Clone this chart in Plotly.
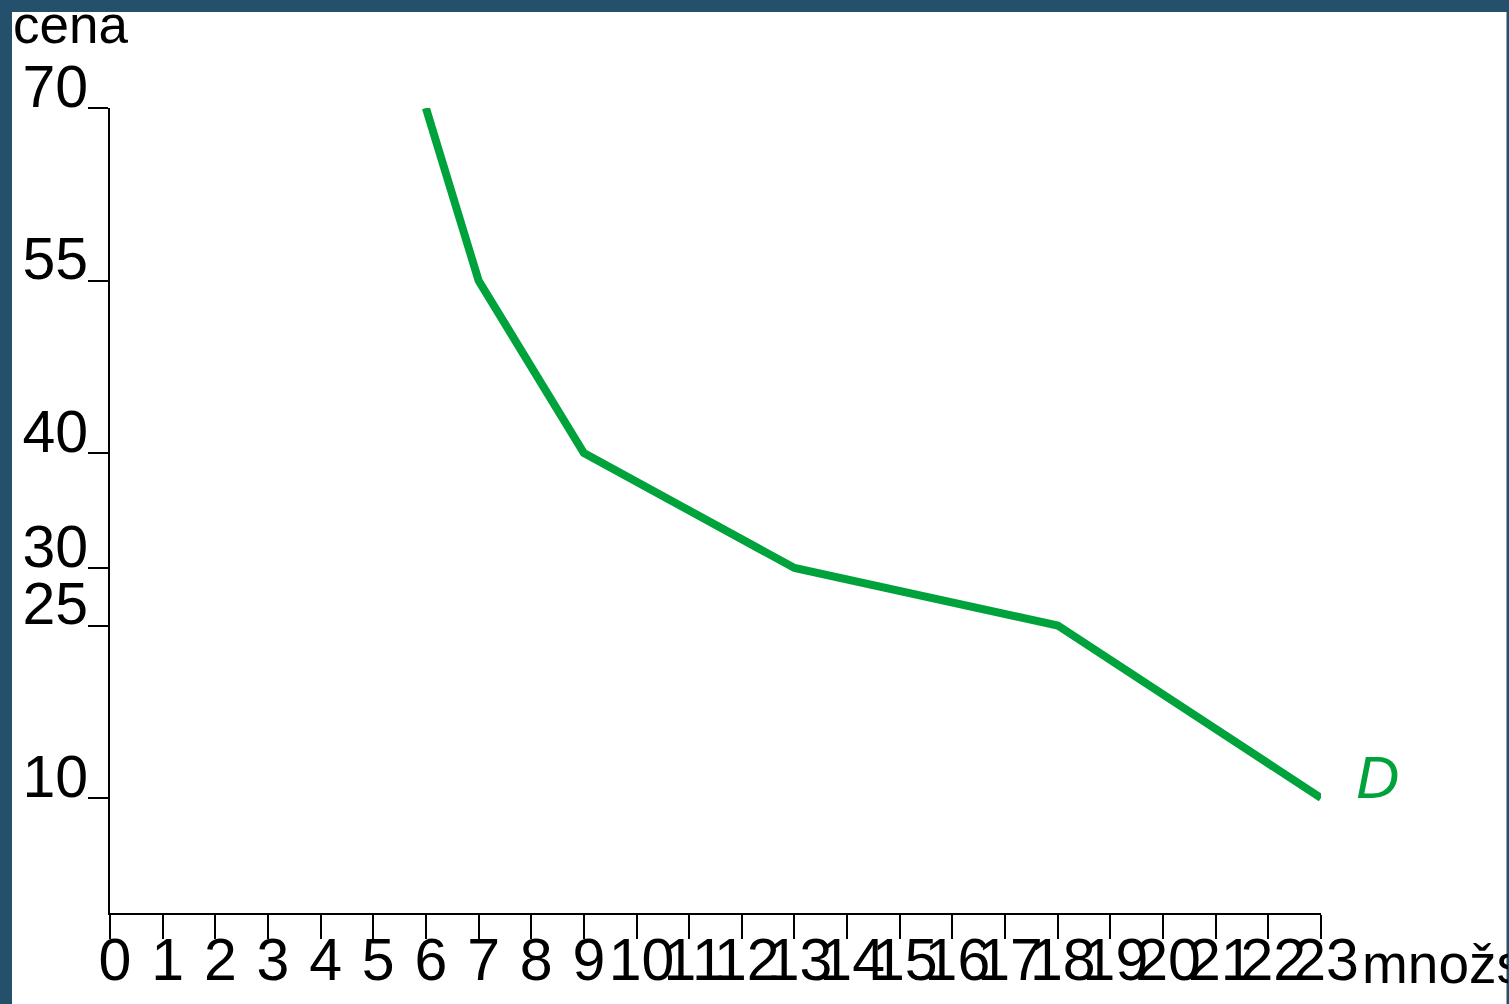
import plotly.graph_objects as go

# Data
quantity = [6, 7, 9, 13, 18, 23]
price = [70, 55, 40, 30, 25, 10]
x_ticks = list(range(0, 24))
y_ticks = [10, 25, 30, 40, 55, 70]
y_title = "cena"
x_title = "množstvo"
curve_label = "D"

W, H = 1509, 1004
ML, MR, MT, MB = 110, 188, 108, 91
pw = W - ML - MR
ph = H - MT - MB
BG = "#25506b"


def px_to_paper_x(px):
    return (px - ML) / pw


def px_to_paper_y(py):
    return (H - MB - py) / ph


FONT = "Liberation Sans, Arial, sans-serif"
GREEN = "#00a23c"

fig = go.Figure()
fig.add_trace(go.Scatter(
    x=quantity, y=price, mode="lines",
    line=dict(color=GREEN, width=8),
    hoverinfo="skip", showlegend=False, cliponaxis=False,
))

fig.update_layout(
    width=W, height=H,
    margin=dict(l=ML, r=MR, t=MT, b=MB, pad=0, autoexpand=False),
    paper_bgcolor=BG,
    plot_bgcolor="white",
    font=dict(family=FONT, color="black"),
    showlegend=False,
    xaxis=dict(
        range=[0, 23], tickvals=x_ticks, ticktext=[str(v) for v in x_ticks],
        showgrid=False, zeroline=False, showline=True, linecolor="black", linewidth=2,
        ticks="outside", ticklen=24, tickwidth=2, tickcolor="black",
        tickfont=dict(size=59, family=FONT, color="black"),
        tickangle=0, automargin=False,
        ticklabelshift=5, ticklabelstandoff=-30, fixedrange=True,
    ),
    yaxis=dict(
        range=[0, 70], tickvals=y_ticks, ticktext=[str(v) for v in y_ticks],
        showgrid=False, zeroline=False, showline=True, linecolor="black", linewidth=2,
        ticks="outside", ticklen=20, tickwidth=2, tickcolor="black",
        tickfont=dict(size=59, family=FONT, color="black"),
        automargin=False,
        ticklabelshift=-22, ticklabelstandoff=-12, fixedrange=True,
    ),
    shapes=[dict(
        type="rect", xref="paper", yref="paper", layer="below",
        x0=px_to_paper_x(12), x1=px_to_paper_x(1506.5),
        y0=px_to_paper_y(1010), y1=px_to_paper_y(12),
        fillcolor="white", line=dict(width=0),
    )],
    annotations=[
        dict(text=y_title, xref="paper", yref="paper",
             x=px_to_paper_x(11), y=px_to_paper_y(56), xanchor="left", yanchor="bottom",
             showarrow=False, font=dict(size=53, family=FONT, color="black")),
        dict(text=x_title, xref="paper", yref="paper",
             x=px_to_paper_x(1360), y=px_to_paper_y(964), xanchor="left", yanchor="middle",
             width=146, align="left",
             showarrow=False, font=dict(size=55, family=FONT, color="black")),
        dict(text=curve_label, xref="paper", yref="paper",
             x=px_to_paper_x(1377), y=px_to_paper_y(777), xanchor="center", yanchor="middle",
             showarrow=False, font=dict(size=60, family=FONT, color=GREEN, style="italic")),
    ],
)

fig.write_html(
    "out.html",
    config={"displayModeBar": False},
    post_script="document.body.style.margin='0px';document.body.style.background='%s';" % BG,
)
